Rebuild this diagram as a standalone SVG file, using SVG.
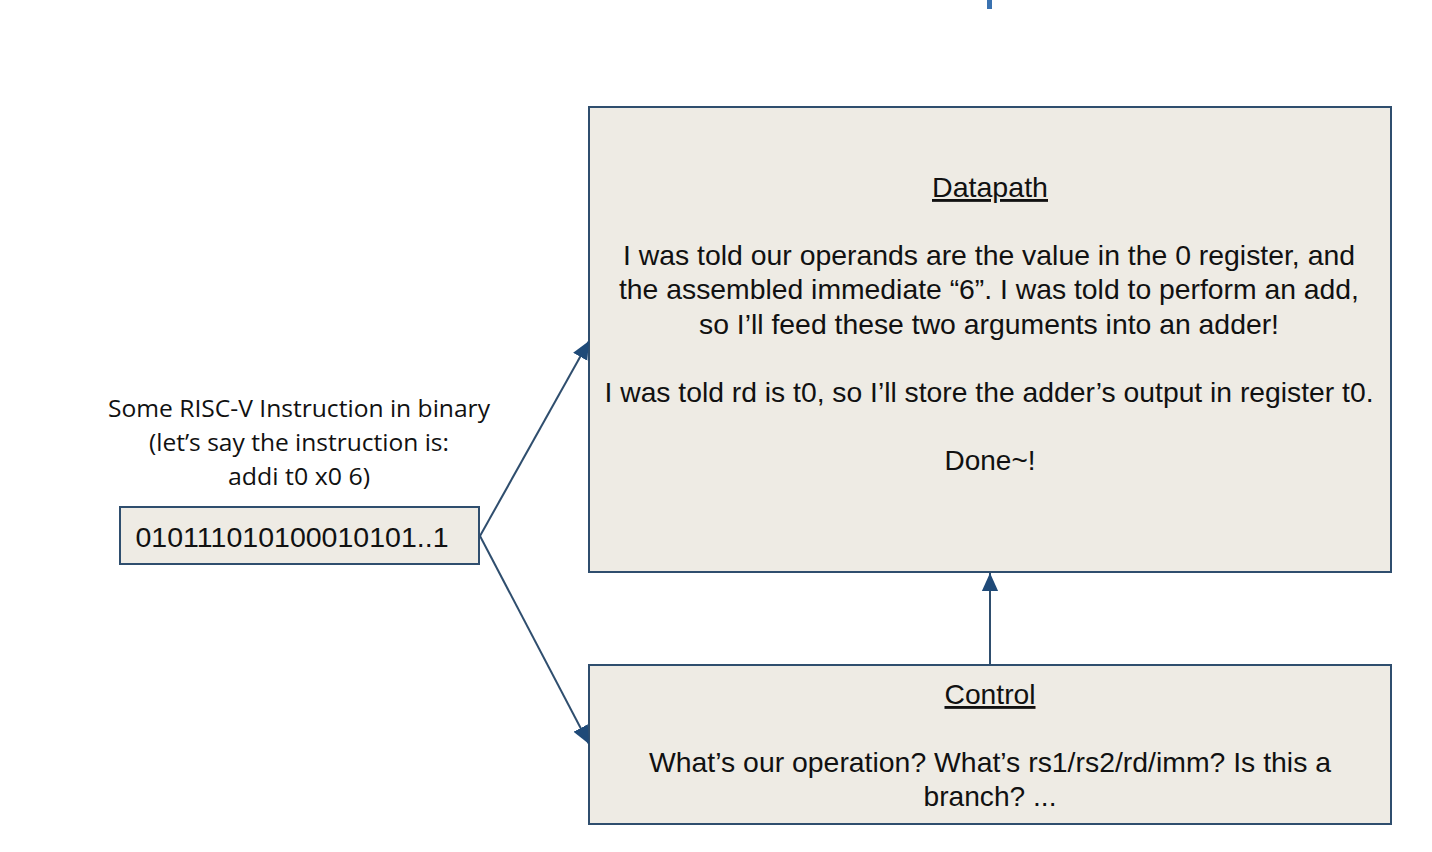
<svg xmlns="http://www.w3.org/2000/svg" width="1432" height="852" viewBox="0 0 1432 852">
<style>
.box{fill:#eeebe4;stroke:#2f4e6e;stroke-width:2}
.conn{stroke:#2f4e6e;stroke-width:2;fill:none}
.t{font-family:"Liberation Sans",Arial,sans-serif;font-size:28.5px;fill:#111;text-anchor:middle}
.c{font-family:"Open Sans","Noto Sans",sans-serif;font-size:24px;fill:#111;text-anchor:middle}
.u{text-decoration:underline}
</style>
<defs>
<marker id="ah" viewBox="0 0 10 10" refX="10" refY="5" markerWidth="9" markerHeight="9" orient="auto" markerUnits="strokeWidth">
<path d="M0,0.5 L10,5 L0,9.5 z" fill="#1f4a78"/>
</marker>
</defs>
<rect x="987" y="0" width="5" height="9" fill="#3a72b0"/>
<g id="instruction-label">
<text class="c" x="299" y="417" textLength="382" lengthAdjust="spacingAndGlyphs">Some RISC-V Instruction in binary</text>
<text class="c" x="299" y="451" textLength="300" lengthAdjust="spacingAndGlyphs">(let’s say the instruction is:</text>
<text class="c" x="299" y="485" textLength="142" lengthAdjust="spacingAndGlyphs">addi t0 x0 6)</text>
</g>
<g id="binary">
<rect class="box" x="120" y="507" width="359" height="57"/>
<text class="t" x="292" y="547" textLength="313" lengthAdjust="spacingAndGlyphs">010111010100010101..1</text>
</g>
<g id="datapath">
<rect class="box" x="589" y="107" width="802" height="465"/>
<text class="t u" x="990" y="197" textLength="116" lengthAdjust="spacingAndGlyphs">Datapath</text>
<text class="t" x="989" y="265" textLength="732" lengthAdjust="spacingAndGlyphs">I was told our operands are the value in the 0 register, and</text>
<text class="t" x="989" y="299" textLength="740" lengthAdjust="spacingAndGlyphs">the assembled immediate “6”. I was told to perform an add,</text>
<text class="t" x="989" y="334" textLength="580" lengthAdjust="spacingAndGlyphs">so I’ll feed these two arguments into an adder!</text>
<text class="t" x="989" y="402" textLength="769" lengthAdjust="spacingAndGlyphs">I was told rd is t0, so I’ll store the adder’s output in register t0.</text>
<text class="t" x="990" y="470" textLength="91" lengthAdjust="spacingAndGlyphs">Done~!</text>
</g>
<g id="control">
<rect class="box" x="589" y="665" width="802" height="159"/>
<text class="t u" x="990" y="704" textLength="91" lengthAdjust="spacingAndGlyphs">Control</text>
<text class="t" x="990" y="772" textLength="682" lengthAdjust="spacingAndGlyphs">What’s our operation? What’s rs1/rs2/rd/imm? Is this a</text>
<text class="t" x="990" y="806" textLength="133" lengthAdjust="spacingAndGlyphs">branch? ...</text>
</g>
<g id="connectors">
<line class="conn" x1="480" y1="536" x2="589" y2="341" marker-end="url(#ah)"/>
<line class="conn" x1="480" y1="536" x2="589" y2="744" marker-end="url(#ah)"/>
<line class="conn" x1="990" y1="665" x2="990" y2="573" marker-end="url(#ah)"/>
</g>
</svg>
